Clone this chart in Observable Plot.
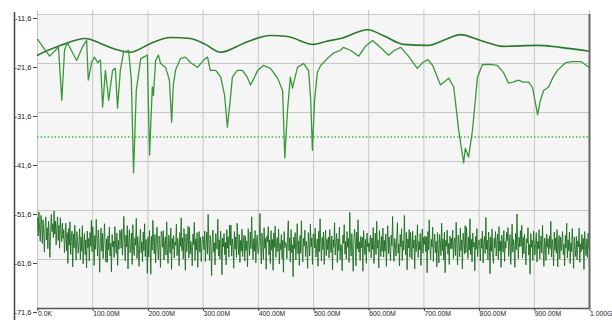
<!DOCTYPE html>
<html><head><meta charset="utf-8">
<script src="https://cdn.jsdelivr.net/npm/d3@7"></script>
<script src="https://cdn.jsdelivr.net/npm/@observablehq/plot@0.6"></script>
<style>body{margin:0;background:#fff;font-family:"Liberation Sans",Arial,sans-serif}</style>
</head><body><div id="chart"></div>
<script>
const xTicks = [0,100,200,300,400,500,600,700,800,900,1000];
const xTickLabels = ["0.0K","100.00M","200.00M","300.00M","400.00M","500.00M","600.00M","700.00M","800.00M","900.00M","1.000G"];
const yTicks = [-71.6,-61.6,-51.6,-41.6,-31.6,-21.6,-11.6];
const yTickLabels = ["-71,6","-61,6","-51,6","-41,6","-31,6","-21,6","-11,6"];
const thresholdLevel = -36.6;

const upperFreq = [0,42,87,114,141,168,205,241,277,304,332,377,422,453,500,522,549,598,630,663,707,739,766,803,844,906,947,1000];
const upperLevel = [-19.9,-17.9,-16.5,-17.5,-18.7,-19.3,-17.5,-16.3,-16.5,-17.7,-19.3,-17.3,-15.9,-16.1,-17.7,-17.1,-16.5,-14.7,-16.1,-17.7,-17.9,-16.7,-15.7,-16.9,-18.1,-17.9,-18.3,-19.1];

const lowerFreq = [0,22,38,44,49,54,63,71,82,89,92,98,103,109,114,118,123,129,136,141,145,150,156,165,170,174,179,187,199,203,207,208,210,214,219,223,232,239,243,246,250,259,268,277,290,301,308,313,323,332,339,344,350,353,362,371,380,386,399,409,422,435,444,448,453,458,462,471,482,491,495,498,502,507,513,525,536,549,554,567,582,594,607,621,636,647,658,672,688,698,707,716,730,745,754,763,772,775,781,788,794,797,806,821,833,844,853,862,871,880,890,897,906,911,917,926,933,942,957,969,984,1000];
const lowerLevel = [-16.7,-20.1,-18.3,-29.1,-18.9,-17.3,-19.3,-21.0,-18.1,-16.9,-25.0,-21.4,-20.3,-21.4,-20.9,-30.5,-23.0,-29.1,-23.0,-22.6,-30.7,-23.0,-19.3,-18.9,-25.0,-43.9,-27.1,-20.6,-19.9,-40.3,-29.1,-26.4,-28.1,-21.0,-19.9,-21.6,-22.4,-25.0,-33.6,-26.0,-23.0,-20.6,-20.3,-21.4,-22.4,-20.9,-20.3,-23.0,-23.0,-24.4,-28.1,-34.6,-28.1,-24.4,-23.0,-23.0,-24.4,-26.0,-23.0,-22.0,-22.6,-24.6,-27.1,-40.9,-31.1,-24.4,-26.6,-22.4,-21.6,-23.0,-29.1,-39.3,-29.1,-23.4,-22.0,-20.6,-19.5,-18.9,-18.3,-18.9,-20.1,-18.1,-16.9,-18.3,-19.9,-18.9,-18.3,-20.1,-22.6,-21.4,-20.8,-22.0,-26.0,-24.6,-26.4,-35.2,-41.9,-38.9,-40.7,-35.2,-28.1,-24.4,-21.8,-21.8,-22.0,-23.4,-25.6,-25.4,-25.0,-25.4,-25.4,-26.6,-32.1,-29.1,-27.1,-26.4,-24.6,-23.0,-21.4,-21.2,-21.2,-22.4];

const noiseLevel = [
-53.2,-56.8,-51.9,-55.4,-57.9,-52.6,-54.1,-58.3,-53.5,-56.2,-60.1,-54.8,-52.9,-57.6,-55.1,-59.4,-53.8,-56.9,-61.2,-55.7,
-52.4,-55.9,-54.3,-57.1,-51.7,-56.4,-53.8,-58.6,-55.0,-52.9,-57.7,-54.6,-59.3,-53.1,-56.0,-58.0,-54.2,-57.3,-55.5,-60.2,
-57.3,-54.2,-59.8,-56.1,-62.4,-55.3,-58.7,-53.9,-60.6,-57.2,-55.8,-63.1,-56.4,-59.2,-54.6,-58.9,-61.7,-55.9,-57.8,-60.3,
-58.1,-55.3,-61.6,-57.0,-59.9,-54.7,-62.5,-58.4,-56.3,-60.6,-57.6,-63.3,-55.8,-59.2,-57.3,-61.9,-56.1,-58.9,-53.6,-60.0,
-54.9,-58.1,-62.8,-56.7,-59.5,-53.4,-57.4,-60.9,-55.6,-58.4,-64.2,-57.1,-55.2,-59.9,-56.3,-61.4,-57.7,-54.3,-58.6,-62.1,
-57.4,-62.2,-56.8,-59.6,-55.0,-60.9,-58.3,-64.1,-56.5,-59.0,-57.9,-61.2,-54.9,-58.6,-60.4,-56.2,-62.8,-57.7,-59.5,-55.6,
-56.0,-59.3,-55.4,-60.7,-57.5,-52.8,-58.2,-61.9,-56.6,-59.0,-54.7,-63.5,-57.9,-55.5,-60.2,-58.8,-56.2,-62.6,-54.5,-59.6,
-60.8,-57.2,-58.7,-53.2,-61.4,-56.9,-59.3,-63.0,-57.8,-55.4,-60.2,-58.0,-62.1,-56.0,-59.8,-54.3,-61.0,-57.5,-58.8,-64.4,
-57.0,-61.1,-55.7,-58.5,-64.6,-56.9,-59.7,-53.6,-58.0,-60.4,-56.5,-62.3,-57.6,-55.0,-59.1,-61.6,-56.8,-58.3,-63.2,-55.9,
-56.3,-59.1,-55.7,-61.7,-58.5,-57.0,-60.7,-53.9,-59.6,-62.4,-56.6,-58.2,-60.3,-55.2,-63.6,-57.3,-59.4,-56.7,-61.3,-58.0,
-58.7,-54.4,-60.8,-57.3,-59.4,-62.9,-56.1,-58.9,-53.1,-59.8,-57.2,-61.5,-55.3,-58.1,-63.8,-56.4,-60.0,-57.8,-54.8,-61.3,
-55.1,-60.5,-57.9,-59.2,-62.9,-56.4,-58.6,-54.0,-61.8,-57.4,-59.7,-56.1,-63.2,-58.3,-55.9,-60.1,-57.1,-62.0,-58.9,-56.8,
-57.5,-59.6,-55.8,-62.0,-58.4,-56.0,-60.5,-52.4,-58.6,-61.8,-56.7,-59.2,-64.9,-57.1,-55.6,-60.1,-58.2,-62.7,-56.3,-59.0,
-59.5,-53.4,-60.9,-57.6,-61.5,-55.8,-58.4,-64.7,-57.2,-59.0,-56.3,-60.6,-58.1,-62.7,-55.5,-59.3,-57.0,-61.1,-54.6,-58.7,
-54.6,-60.9,-57.4,-58.8,-63.4,-55.9,-59.5,-57.0,-61.2,-54.2,-58.3,-60.6,-56.5,-62.2,-57.7,-59.9,-55.4,-61.0,-58.1,-56.6,
-61.9,-56.9,-59.8,-57.8,-63.1,-55.3,-58.5,-60.8,-56.0,-59.4,-52.9,-58.2,-61.6,-57.3,-59.9,-55.7,-62.3,-58.0,-56.6,-60.4,
-60.3,-57.9,-52.2,-59.1,-62.5,-56.2,-58.7,-61.6,-55.1,-59.3,-57.3,-63.6,-56.8,-58.0,-54.9,-60.7,-57.6,-62.4,-55.7,-59.7,
-57.5,-63.8,-56.2,-59.1,-54.8,-61.2,-58.6,-57.1,-60.0,-55.4,-62.5,-58.3,-59.6,-56.5,-61.4,-57.7,-64.2,-55.9,-59.2,-58.1,
-58.4,-61.4,-56.9,-53.7,-59.8,-57.2,-62.1,-55.5,-60.2,-58.6,-65.1,-57.0,-59.4,-56.1,-61.7,-58.2,-54.3,-60.4,-57.8,-62.8,
-56.7,-60.3,-53.7,-59.7,-62.1,-57.3,-58.8,-55.6,-61.0,-57.9,-59.3,-63.4,-56.1,-58.4,-60.9,-54.4,-59.0,-57.2,-62.6,-56.4,
-56.4,-59.2,-55.2,-61.1,-58.9,-57.4,-63.0,-55.8,-60.0,-53.3,-58.5,-61.9,-57.1,-59.6,-56.0,-62.6,-58.1,-55.6,-60.8,-57.5,
-59.6,-57.0,-61.3,-55.5,-58.9,-60.2,-56.8,-63.7,-57.6,-59.1,-54.1,-60.7,-58.2,-56.3,-62.2,-57.4,-59.8,-55.0,-61.6,-58.5,
-59.0,-63.9,-56.6,-58.3,-54.5,-60.5,-57.9,-61.5,-55.9,-59.1,-57.3,-62.2,-52.0,-58.7,-60.9,-56.3,-59.8,-64.0,-57.6,-55.4,
-57.8,-62.9,-56.0,-59.4,-53.5,-60.1,-58.0,-61.8,-56.9,-59.2,-57.1,-64.0,-55.7,-58.6,-60.6,-57.5,-62.4,-56.2,-59.0,-58.3,
-60.1,-58.0,-56.7,-61.3,-57.2,-59.5,-55.1,-62.4,-58.6,-56.2,-60.6,-53.8,-59.3,-57.7,-63.3,-55.7,-58.8,-61.0,-56.9,-59.9,
-55.2,-61.1,-57.7,-59.9,-56.4,-63.0,-58.1,-54.7,-60.4,-57.0,-59.5,-61.9,-56.6,-58.8,-52.8,-59.7,-62.0,-57.3,-58.4,-60.9,
-57.1,-54.1,-60.3,-58.4,-62.9,-56.5,-59.0,-55.3,-61.8,-57.8,-59.7,-52.6,-58.2,-60.7,-56.0,-63.7,-57.4,-59.2,-55.5,-61.2,
-56.1,-58.7,-61.5,-55.8,-59.3,-57.6,-63.5,-56.7,-60.0,-58.2,-54.5,-61.2,-57.9,-59.6,-56.3,-62.8,-58.5,-55.4,-60.3,-57.1,
-58.5,-56.8,-60.0,-57.0,-64.3,-55.9,-59.6,-53.5,-58.9,-61.6,-57.5,-59.1,-55.0,-62.0,-58.1,-56.4,-60.2,-57.9,-63.1,-56.1,
-59.1,-62.3,-56.5,-58.0,-60.8,-54.2,-59.8,-57.4,-61.7,-56.0,-64.3,-57.7,-58.9,-55.6,-60.5,-58.3,-62.6,-56.8,-59.4,-57.2,
-59.4,-55.6,-61.4,-58.3,-57.2,-60.8,-54.0,-59.0,-62.7,-56.6,-58.6,-61.1,-55.2,-59.8,-57.6,-63.5,-56.2,-58.0,-60.5,-54.7,
-60.2,-55.0,-58.6,-61.4,-57.0,-59.7,-53.3,-60.6,-57.5,-62.1,-56.2,-59.0,-58.1,-63.9,-56.9,-59.5,-55.3,-61.0,-58.4,-57.6,
-58.8,-61.9,-57.3,-59.3,-55.8,-62.3,-58.2,-56.9,-60.4,-53.0,-59.5,-57.7,-61.7,-56.0,-58.4,-64.5,-57.0,-59.9,-55.4,-60.9,
-62.4,-57.3,-59.2,-55.9,-60.9,-58.0,-56.4,-61.6,-54.9,-59.9,-57.8,-63.2,-56.6,-58.7,-60.1,-55.7,-62.0,-57.9,-59.3,-56.1,
-57.8,-55.1,-61.0,-58.7,-56.5,-62.6,-59.2,-54.4,-60.1,-57.5,-58.9,-63.2,-56.3,-59.6,-52.3,-58.0,-61.4,-57.1,-59.0,-55.7,
-58.9,-54.6,-61.3,-57.1,-60.4,-56.5,-59.6,-62.7,-57.4,-58.2,-55.1,-60.7,-58.5,-64.6,-56.3,-59.1,-57.7,-61.8,-55.8,-58.6,
-60.7,-58.3,-56.1,-62.1,-57.9,-59.4,-55.5,-61.5,-58.6,-56.8,-60.3,-54.6,-59.7,-63.0,-57.2,-58.1,-61.8,-56.4,-59.1,-57.4,
-60.6,-56.8,-59.4,-53.8,-61.1,-57.5,-58.8,-62.9,-56.0,-59.7,-57.2,-60.3,-55.5,-63.1,-58.3,-56.7,-61.5,-57.0,-59.8,-58.0,
-55.9,-60.6,-58.5,-62.9,-56.7,-59.3,-54.2,-61.3,-57.6,-59.8,-56.0,-62.4,-58.2,-60.0,-55.3,-58.8,-63.4,-57.0,-59.5,-61.0,
-56.9,-61.7,-57.8,-59.0,-55.2,-62.2,-58.4,-60.0,-56.5,-59.5,-57.3,-63.6,-55.9,-58.7,-60.8,-57.4,-61.2,-56.2,-59.3,-58.8
];

const upper = upperFreq.map((f, i) => ({f, v: upperLevel[i]}));
const lower = lowerFreq.map((f, i) => ({f, v: lowerLevel[i]}));
const noise = noiseLevel.map((v, i) => ({f: i * 1000 / (noiseLevel.length - 1), v}));

const chart = Plot.plot({
  width: 612, height: 320,
  marginLeft: 37, marginRight: 23, marginTop: 14, marginBottom: 12,
  x: {domain: [0, 1000], label: null},
  y: {domain: [-71.6, -11.6], label: null},
  style: {fontFamily: "'Liberation Sans', Arial, sans-serif", fontSize: "7px", background: "#fff", overflow: "visible"},
  marks: [
    Plot.frame({fill: "#f5f5f5", stroke: "none"}),
    Plot.gridX(xTicks, {stroke: "#c6c6c6", strokeOpacity: 1, insetTop: -4}),
    Plot.gridY(yTicks, {stroke: "#c6c6c6", strokeOpacity: 1}),
    Plot.ruleY([thresholdLevel], {stroke: "#45b845", strokeDasharray: "1.5,2", strokeWidth: 1.6}),
    Plot.line(noise, {x: "f", y: "v", stroke: "#15691a", strokeWidth: 0.85}),
    Plot.line(upper, {x: "f", y: "v", stroke: "#2b7a2b", strokeWidth: 1.6, curve: "monotone-x"}),
    Plot.line(lower, {x: "f", y: "v", stroke: "#3a983a", strokeWidth: 1.3}),
    Plot.ruleX([1000], {stroke: "#666", strokeWidth: 2}),
    Plot.ruleX([0], {dx: -23, insetTop: -2, insetBottom: -12, stroke: "#444", strokeWidth: 1.5}),
    Plot.ruleY([-71.6], {stroke: "#555", strokeWidth: 1.4}),
    Plot.axisX(xTicks, {label: null, tickFormat: d => xTickLabels[xTicks.indexOf(d)], tickSize: 3, tickPadding: 0, textAnchor: "start", dx: 0.5, fontSize: 6.8, stroke: "#444", fill: "#222"}),
    Plot.axisY(yTicks, {label: null, tickFormat: d => yTickLabels[yTicks.indexOf(d)], tickSize: 4, tickPadding: 2, dy: 4, fontSize: 7.5, stroke: "#444", fill: "#222"})
  ]
});
document.getElementById("chart").append(chart);
</script></body></html>
